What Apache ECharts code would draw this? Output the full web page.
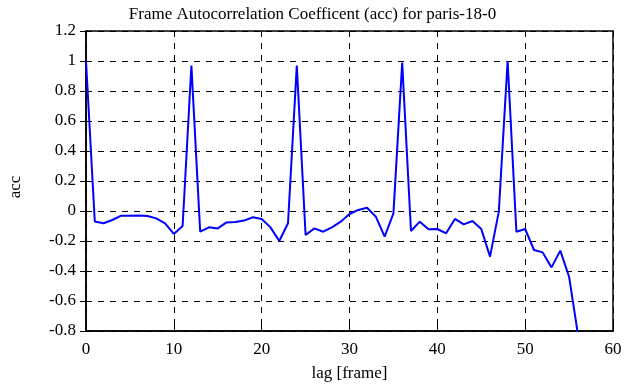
<!DOCTYPE html>
<html>
<head>
<meta charset="utf-8">
<script src="https://cdn.jsdelivr.net/npm/echarts@6/dist/echarts.min.js"></script>
<style>
  html, body { margin: 0; padding: 0; background: #fff; }
  #container { width: 625px; height: 387px; }
</style>
</head>
<body>
<div id="container"></div>
<script>
    var lags = [];
    for (var i = 0; i <= 56; i++) lags.push(i);

    // acc values, lag 0..56
    var acc = [1.0, -0.07, -0.082, -0.06, -0.031, -0.031, -0.03, -0.033, -0.049, -0.082,
        -0.153, -0.1, 0.969, -0.138, -0.109, -0.116, -0.076, -0.073, -0.064, -0.042,
        -0.053, -0.109, -0.2, -0.082, 0.969, -0.16, -0.116, -0.138, -0.109, -0.071,
        -0.02, 0.007, 0.022, -0.038, -0.171, -0.016, 0.989, -0.133, -0.071, -0.122,
        -0.12, -0.149, -0.053, -0.089, -0.067, -0.12, -0.304, -0.004, 1.0, -0.138,
        -0.12, -0.26, -0.276, -0.376, -0.264, -0.438, -0.82];

    var points = lags.map(function (l, k) { return [l, acc[k]]; });

    var font = 'Liberation Serif';
    var dom = document.getElementById('container');
    var myChart = echarts.init(dom);

    var option = {
        animation: false,
        backgroundColor: '#fff',
        title: {
            text: 'Frame Autocorrelation Coefficent (acc) for paris-18-0',
            left: 'center',
            top: 1,
            textStyle: { fontFamily: font, fontSize: 17, fontWeight: 'normal', color: '#000' }
        },
        grid: {
            left: 86, right: 12, top: 31, bottom: 56,
            outerBoundsMode: 'none',
            containLabel: false,
            show: true, borderColor: '#000', borderWidth: 1.5
        },
        xAxis: [{
            type: 'value', min: 0, max: 60, interval: 10,
            name: 'lag [frame]', nameLocation: 'middle', nameGap: 34,
            nameTextStyle: { fontFamily: font, fontSize: 17, color: '#000' },
            axisLine: { show: true, onZero: false, lineStyle: { color: '#000', width: 1.5 } },
            axisTick: { inside: true, length: 6, lineStyle: { color: '#000' } },
            axisLabel: { fontFamily: font, fontSize: 17, color: '#000', margin: 10 },
            splitLine: { show: true, lineStyle: { color: '#000', type: [6, 6], width: 1 } }
        }, {
            type: 'value', min: 0, max: 60, interval: 10, position: 'top',
            axisLine: { show: false },
            axisTick: { inside: true, length: 6, lineStyle: { color: '#000' } },
            axisLabel: { show: false },
            splitLine: { show: false }
        }],
        yAxis: [{
            type: 'value', min: -0.8, max: 1.2, interval: 0.2,
            name: 'acc', nameLocation: 'middle', nameGap: 62,
            nameTextStyle: { fontFamily: font, fontSize: 17, color: '#000', padding: [0, 12, 0, 0] },
            axisLine: { show: true, onZero: false, lineStyle: { color: '#000', width: 1.5 } },
            axisTick: { inside: true, length: 6, lineStyle: { color: '#000' } },
            axisLabel: {
                fontFamily: font, fontSize: 17, color: '#000', margin: 10,
                formatter: function (v) { return +v.toFixed(1) + ''; }
            },
            splitLine: { show: true, lineStyle: { color: '#000', type: [6, 6], width: 1 } }
        }, {
            type: 'value', min: -0.8, max: 1.2, interval: 0.2, position: 'right',
            axisLine: { show: false },
            axisTick: { inside: true, length: 6, lineStyle: { color: '#000' } },
            axisLabel: { show: false },
            splitLine: { show: false }
        }],
        series: [{
            type: 'line',
            data: points,
            showSymbol: false,
            clip: true,
            lineStyle: { color: '#0000ff', width: 2 },
            itemStyle: { color: '#0000ff' }
        }]
    };

    myChart.setOption(option);
</script>
</body>
</html>
